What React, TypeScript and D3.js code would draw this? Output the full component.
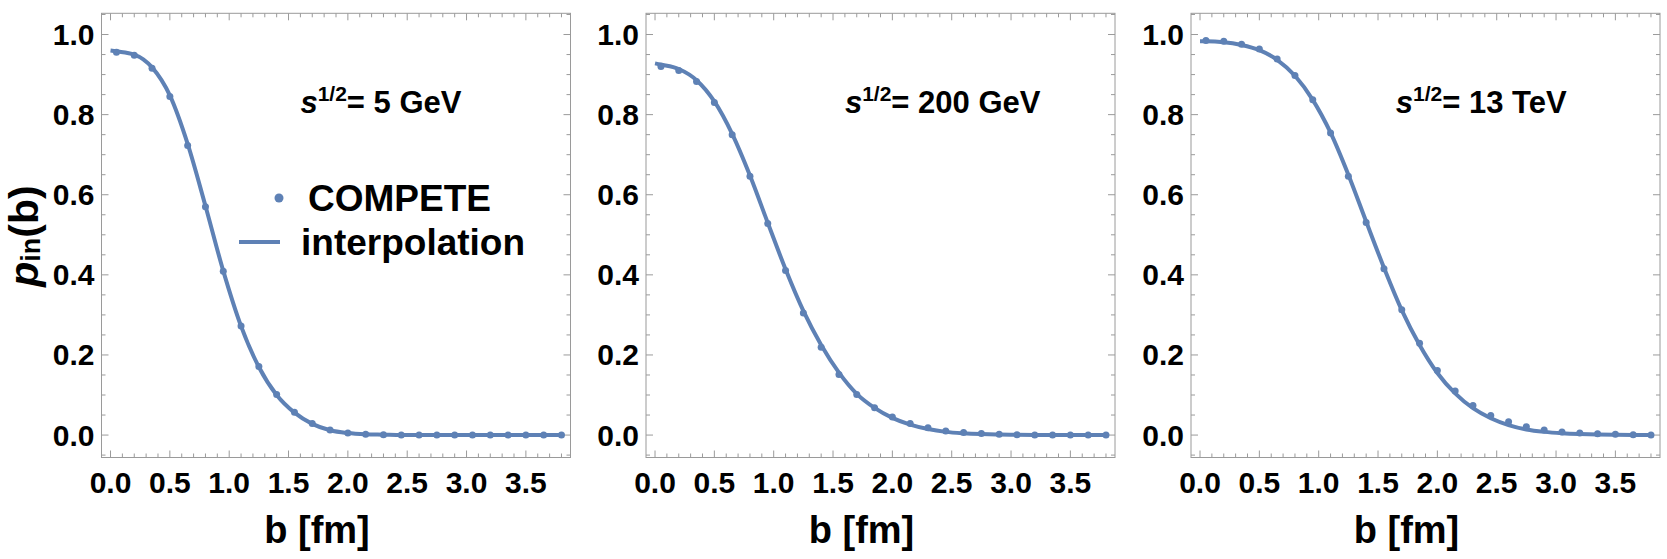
import * as React from "react";
import * as d3 from "d3";

// impact parameter grid of the COMPETE points (fm)
const B_POINTS = [0.05, 0.2, 0.35, 0.5, 0.65, 0.8, 0.95, 1.1, 1.25, 1.4, 1.55, 1.7, 1.85, 2.0, 2.15, 2.3, 2.45, 2.6, 2.75, 2.9, 3.05, 3.2, 3.35, 3.5, 3.65, 3.8];
// interpolation curve is sampled on the same grid plus b = 0
const B_LINE = [0, 0.05, 0.2, 0.35, 0.5, 0.65, 0.8, 0.95, 1.1, 1.25, 1.4, 1.55, 1.7, 1.85, 2.0, 2.15, 2.3, 2.45, 2.6, 2.75, 2.9, 3.05, 3.2, 3.35, 3.5, 3.65, 3.8];

const PTS_5GEV = [0.956, 0.948, 0.916, 0.845, 0.723, 0.57, 0.409, 0.272, 0.171, 0.101, 0.057, 0.029, 0.0125, 0.005, 0.002, 0.001, 0, 0, 0, 0, 0, 0, 0, 0, 0, 0];
const LINE_5GEV = [0.96, 0.958, 0.95, 0.918, 0.848, 0.727, 0.572, 0.41, 0.272, 0.17, 0.1, 0.056, 0.028, 0.012, 0.005, 0.002, 0.001, 0, 0, 0, 0, 0, 0, 0, 0, 0, 0];

const PTS_200GEV = [0.92, 0.91, 0.883, 0.83, 0.75, 0.646, 0.528, 0.411, 0.305, 0.219, 0.151, 0.101, 0.068, 0.045, 0.029, 0.018, 0.01, 0.0067, 0.004, 0.002, 0.001, 0, 0, 0, 0, 0];
const LINE_200GEV = [0.928, 0.925, 0.914, 0.886, 0.833, 0.752, 0.648, 0.53, 0.414, 0.31, 0.225, 0.156, 0.103, 0.068, 0.043, 0.026, 0.015, 0.008, 0.0045, 0.0025, 0.0013, 0.0007, 0.0003, 0, 0, 0, 0];

const PTS_13TEV = [0.985, 0.983, 0.976, 0.964, 0.939, 0.898, 0.837, 0.754, 0.646, 0.531, 0.415, 0.313, 0.229, 0.161, 0.11, 0.074, 0.049, 0.033, 0.021, 0.0125, 0.0075, 0.005, 0.003, 0.002, 0.001, 0];
const LINE_13TEV = [0.983, 0.983, 0.981, 0.974, 0.961, 0.937, 0.897, 0.837, 0.755, 0.65, 0.533, 0.418, 0.312, 0.225, 0.155, 0.104, 0.067, 0.042, 0.025, 0.014, 0.008, 0.0045, 0.0025, 0.0013, 0.0006, 0.0002, 0];

const ENERGIES = ["5 GeV", "200 GeV", "13 TeV"];

const X_TICKS = [0, 0.5, 1, 1.5, 2, 2.5, 3, 3.5];
const Y_TICKS = [0, 0.2, 0.4, 0.6, 0.8, 1.0];

const BLUE = "#5e81b5";
const FRAME = "#9a9a9a";
const FONT = "'Liberation Sans', Arial, sans-serif";

const W = 1667;
const H = 559;
const PANEL_LEFT = [101.5, 646, 1191];
const PANEL_W = 469;
const TOP = 13.3;
const BOTTOM = 457.5;

type Panel = { pts: number[]; line: number[]; energy: string; labelX: number };

const PANELS: Panel[] = [
  { pts: PTS_5GEV, line: LINE_5GEV, energy: ENERGIES[0], labelX: 1.6 },
  { pts: PTS_200GEV, line: LINE_200GEV, energy: ENERGIES[1], labelX: 1.6 },
  { pts: PTS_13TEV, line: LINE_13TEV, energy: ENERGIES[2], labelX: 1.65 },
];

function PanelView({ p, left, first }: { p: Panel; left: number; first: boolean }) {
  const x = d3.scaleLinear().domain([-0.076, 3.876]).range([left, left + PANEL_W]);
  const y = d3.scaleLinear().domain([-0.056, 1.053]).range([BOTTOM, TOP]);
  const fmt = d3.format(".1f");

  const xMinor = d3.range(0, 3.85, 0.1).filter((v) => Math.abs(v * 2 - Math.round(v * 2)) > 1e-6);
  const yMinor = d3.range(-0.05, 1.06, 0.05).filter((v) => Math.abs(v * 5 - Math.round(v * 5)) > 1e-6);

  const line = d3
    .line<number>()
    .x((_, i) => x(B_LINE[i]))
    .y((d) => y(d))
    .curve(d3.curveMonotoneX);

  const right = left + PANEL_W;
  const major = 7;
  const minor = 4;

  return (
    <g>
      <rect x={left} y={TOP} width={PANEL_W} height={BOTTOM - TOP} fill="none" stroke={FRAME} strokeWidth={1} />
      {/* ticks, all four sides, pointing inward */}
      {X_TICKS.map((t) => (
        <g key={"xt" + t} stroke={FRAME}>
          <line x1={x(t)} x2={x(t)} y1={BOTTOM} y2={BOTTOM - major} />
          <line x1={x(t)} x2={x(t)} y1={TOP} y2={TOP + major} />
        </g>
      ))}
      {xMinor.map((t) => (
        <g key={"xm" + t} stroke={FRAME}>
          <line x1={x(t)} x2={x(t)} y1={BOTTOM} y2={BOTTOM - minor} />
          <line x1={x(t)} x2={x(t)} y1={TOP} y2={TOP + minor} />
        </g>
      ))}
      {Y_TICKS.map((t) => (
        <g key={"yt" + t} stroke={FRAME}>
          <line x1={left} x2={left + major} y1={y(t)} y2={y(t)} />
          <line x1={right} x2={right - major} y1={y(t)} y2={y(t)} />
        </g>
      ))}
      {yMinor.map((t) => (
        <g key={"ym" + t} stroke={FRAME}>
          <line x1={left} x2={left + minor} y1={y(t)} y2={y(t)} />
          <line x1={right} x2={right - minor} y1={y(t)} y2={y(t)} />
        </g>
      ))}
      {/* tick labels */}
      {X_TICKS.map((t) => (
        <text key={"xl" + t} x={x(t)} y={482} textAnchor="middle" dominantBaseline="central" fontSize={30} fontWeight="bold">
          {fmt(t)}
        </text>
      ))}
      {Y_TICKS.map((t) => (
        <text key={"yl" + t} x={left - 7} y={y(t)} textAnchor="end" dominantBaseline="central" fontSize={30} fontWeight="bold">
          {fmt(t)}
        </text>
      ))}
      <text x={(left + right) / 2 - 19} y={530} textAnchor="middle" dominantBaseline="central" fontSize={38} fontWeight="bold">
        b [fm]
      </text>

      {/* data */}
      <path d={line(p.line) ?? ""} fill="none" stroke={BLUE} strokeWidth={4} />
      {p.pts.map((v, i) => (
        <circle key={i} cx={x(B_POINTS[i])} cy={y(v)} r={3.5} fill={BLUE} />
      ))}

      <text x={x(p.labelX)} y={y(0.8) - 2} fontSize={31} fontWeight="bold">
        <tspan fontStyle="italic">s</tspan>
        <tspan dy={-12} fontSize={21}>1/2</tspan>
        <tspan dy={12}>= {p.energy}</tspan>
      </text>

      {first ? (
        <g>
          <circle cx={279} cy={198} r={4.5} fill={BLUE} />
          <text x={308} y={198} dominantBaseline="central" fontSize={37} fontWeight="bold">COMPETE</text>
          <line x1={239} x2={280} y1={242} y2={242} stroke={BLUE} strokeWidth={4} />
          <text x={301} y={242} dominantBaseline="central" fontSize={37} fontWeight="bold">interpolation</text>
          <text transform={`translate(24,236) rotate(-90)`} textAnchor="middle" dominantBaseline="central" fontSize={41} fontWeight="bold">
            <tspan fontStyle="italic">p</tspan>
            <tspan dy={7} fontSize={27}>in</tspan>
            <tspan dy={-7}>(b)</tspan>
          </text>
        </g>
      ) : null}
    </g>
  );
}

export default function App() {
  return (
    <div style={{ position: "fixed", left: 0, top: 0, width: W, height: H, background: "#fff" }}>
      <svg width={W} height={H} style={{ display: "block", fontFamily: FONT }} fill="#000">
        {PANELS.map((p, i) => (
          <PanelView key={i} p={p} left={PANEL_LEFT[i]} first={i === 0} />
        ))}
      </svg>
    </div>
  );
}
